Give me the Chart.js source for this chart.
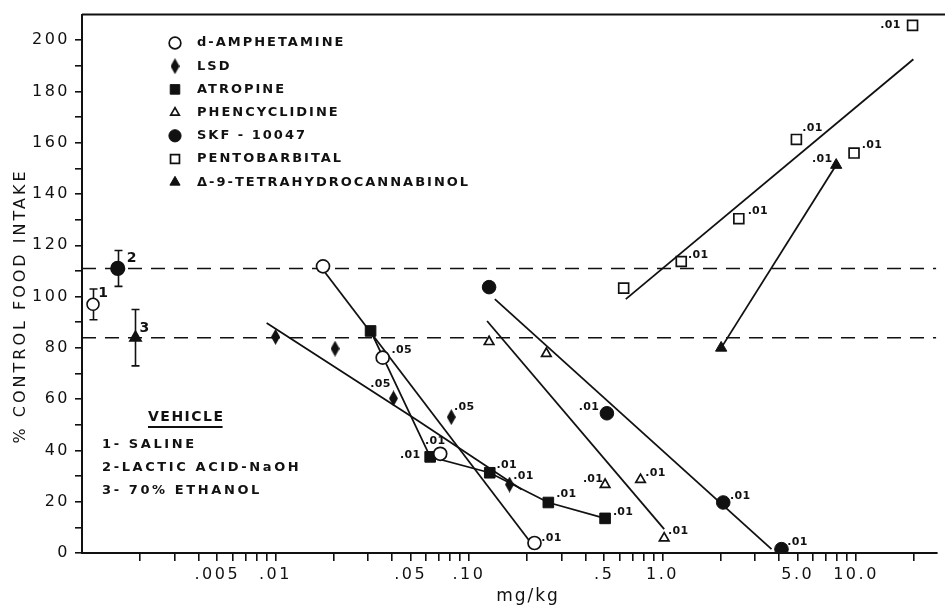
<!DOCTYPE html>
<html>
<head>
<meta charset="utf-8">
<script src="https://cdn.jsdelivr.net/npm/chart.js@4.4.1/dist/chart.umd.min.js"></script>
<style>
  html, body { margin: 0; padding: 0; background: #fff; }
  canvas { display: block; }
</style>
</head>
<body>
<canvas id="chart" width="945" height="608"></canvas>
<script>
// ── Data ─────────────────────────────────────────────────────
const X_MIN = 0.001;
const X_MAX = 26;
const Y_MIN = 0;
const Y_MAX = 210;

const X_TICKS = [0.002, 0.003, 0.004, 0.005, 0.006, 0.007, 0.008, 0.009,
                 0.01, 0.02, 0.03, 0.04, 0.05, 0.06, 0.07, 0.08, 0.09,
                 0.1, 0.2, 0.3, 0.4, 0.5, 0.6, 0.7, 0.8, 0.9,
                 1, 2, 3, 4, 5, 6, 7, 8, 9, 10, 20];
const X_LABEL_VALUES = [0.005, 0.01, 0.05, 0.1, 0.5, 1, 5, 10];
const X_LABEL_TEXT   = ['.005', '.01', '.05', '.10', '.5', '1.0', '5.0', '10.0'];

// vehicles: 1 saline, 2 lactic acid-NaOH, 3 70% ethanol
const VEHICLE_X    = [0.00114, 0.00153, 0.00189];
const VEHICLE_Y    = [97, 111, 84];
const VEHICLE_ERR  = [6, 7, 11];
const VEHICLE_TAGS = ['1', '2', '3'];
const VEHICLE_NAMES = ['1- SALINE', '2-LACTIC ACID-NaOH', '3- 70% ETHANOL'];

const AMPH_X = [0.0176, 0.0358, 0.071, 0.218];
const AMPH_Y = [111.8, 76.2, 38.7, 3.9];
const AMPH_P = ['', '.05', '.01', '.01'];
const AMPH_FIT_X = [0.018, 0.215];
const AMPH_FIT_Y = [109.5, 2.7];

const LSD_X = [0.01, 0.0203, 0.0407, 0.081, 0.162];
const LSD_Y = [84.3, 79.7, 60.3, 53, 26.7];
const LSD_P = ['', '', '.05', '.05', '.01'];
const LSD_FIT_X = [0.009, 0.054, 0.187];
const LSD_FIT_Y = [89.7, 51.8, 24.8];

const ATRO_X = [0.031, 0.063, 0.128, 0.257, 0.505];
const ATRO_Y = [86.6, 37.5, 31.3, 19.7, 13.5];
const ATRO_P = ['', '.01', '.01', '.01', '.01'];

const PCP_X = [0.127, 0.251, 0.505, 0.77, 1.02];
const PCP_Y = [82.4, 77.8, 26.7, 28.6, 5.8];
const PCP_P = ['', '', '.01', '.01', '.01'];
const PCP_FIT_X = [0.124, 1.02];
const PCP_FIT_Y = [90.5, 9.3];

const SKF_X = [0.127, 0.516, 2.06, 4.12];
const SKF_Y = [103.7, 54.5, 19.7, 1.5];
const SKF_P = ['', '.01', '.01', '.01'];
const SKF_FIT_X = [0.136, 3.66];
const SKF_FIT_Y = [99, 1.5];

const PENTO_X = [0.63, 1.25, 2.48, 4.92, 9.77, 19.6];
const PENTO_Y = [103.3, 113.7, 130.4, 161.3, 156, 205.8];
const PENTO_P = ['', '.01', '.01', '.01', '.01', '.01'];
const PENTO_FIT_X = [0.646, 19.8];
const PENTO_FIT_Y = [99, 192.6];

const THC_X = [2.01, 7.9];
const THC_Y = [80, 151.3];
const THC_P = ['', '.01'];

const LEGEND_NAMES = ['d-AMPHETAMINE', 'LSD', 'ATROPINE', 'PHENCYCLIDINE',
                      'SKF - 10047', 'PENTOBARBITAL', 'Δ-9-TETRAHYDROCANNABINOL'];

// ── Styles ───────────────────────────────────────────────────
const INK  = '#111';
const FONT = "'DejaVu Sans', sans-serif";

// offsets of the significance labels (text centre relative to the marker)
const SIG_OFFSET = {
  amph:  [null, [19, -7], [-5, -13], [17, -5]],
  lsd:   [null, null, [-13, -14], [13, -10], [14, -8]],
  atro:  [null, [-20, -2], [17, -8], [18, -8], [18, -6]],
  pcp:   [null, null, [-12, -5], [15, -7], [14, -7]],
  skf:   [null, [-18, -6], [17, -6], [16, -7]],
  pento: [null, [17, -6], [19, -8], [16, -11], [18, -8], [-22, 0]],
  thc:   [null, [-14, -6]]
};
const TAG_OFFSET = [[10, -11], [14, -10], [9, -9]];

// tall narrow diamond for LSD
function makeDiamond(w, h) {
  const c = document.createElement('canvas');
  c.width = w; c.height = h;
  const g = c.getContext('2d');
  g.fillStyle = INK;
  g.beginPath();
  g.moveTo(w / 2, 0); g.lineTo(w, h / 2); g.lineTo(w / 2, h); g.lineTo(0, h / 2);
  g.closePath(); g.fill();
  return c;
}
const DIAMOND = makeDiamond(9, 16);

const STYLE = {
  amph:  { pointStyle: 'circle',   pointRadius: 6.5, pointBackgroundColor: '#fff', pointBorderColor: INK, pointBorderWidth: 1.7 },
  lsd:   { pointStyle: DIAMOND,    pointRadius: 7,   pointBackgroundColor: INK,    pointBorderColor: INK, pointBorderWidth: 0 },
  atro:  { pointStyle: 'rect',     pointRadius: 7.5, pointBackgroundColor: INK,    pointBorderColor: INK, pointBorderWidth: 1 },
  pcp:   { pointStyle: 'triangle', pointRadius: 5.5, pointBackgroundColor: '#fff', pointBorderColor: INK, pointBorderWidth: 1.7 },
  skf:   { pointStyle: 'circle',   pointRadius: 6.8, pointBackgroundColor: INK,    pointBorderColor: INK, pointBorderWidth: 1 },
  pento: { pointStyle: 'rect',     pointRadius: 7,   pointBackgroundColor: '#fff', pointBorderColor: INK, pointBorderWidth: 1.7 },
  thc:   { pointStyle: 'triangle', pointRadius: 6.5, pointBackgroundColor: INK,    pointBorderColor: INK, pointBorderWidth: 1 }
};
const LEGEND_KEYS = ['amph', 'lsd', 'atro', 'pcp', 'skf', 'pento', 'thc'];

// ── Dataset helpers ──────────────────────────────────────────
const pts = (xs, ys) => xs.map((x, i) => ({ x, y: ys[i] }));

function markers(key, xs, ys, sig, extra) {
  return Object.assign({
    data: pts(xs, ys), showLine: false, order: 1, clip: 0,
    sig, sigOffset: SIG_OFFSET[key]
  }, STYLE[key], extra || {});
}

function fitLine(xs, ys, extra) {
  return Object.assign({
    data: pts(xs, ys), showLine: true, pointRadius: 0, order: 3,
    borderColor: INK, borderWidth: 1.8, tension: 0
  }, extra || {});
}

const datasets = [
  // vehicle reference levels
  fitLine([X_MIN, X_MAX], [VEHICLE_Y[1], VEHICLE_Y[1]], { borderDash: [14, 9], borderWidth: 1.5, order: 4 }),
  fitLine([X_MIN, X_MAX], [VEHICLE_Y[2], VEHICLE_Y[2]], { borderDash: [14, 9], borderWidth: 1.5, order: 4 }),
  // fitted lines
  fitLine(AMPH_FIT_X, AMPH_FIT_Y),
  fitLine(LSD_FIT_X, LSD_FIT_Y),
  fitLine(PCP_FIT_X, PCP_FIT_Y),
  fitLine(SKF_FIT_X, SKF_FIT_Y),
  fitLine(PENTO_FIT_X, PENTO_FIT_Y),
  fitLine(ATRO_X, ATRO_Y),
  fitLine(THC_X, THC_Y),
  // markers
  markers('amph', AMPH_X, AMPH_Y, AMPH_P),
  markers('lsd', LSD_X, LSD_Y, LSD_P),
  markers('atro', ATRO_X, ATRO_Y, ATRO_P),
  markers('pcp', PCP_X, PCP_Y, PCP_P),
  markers('skf', SKF_X, SKF_Y, SKF_P),
  markers('pento', PENTO_X, PENTO_Y, PENTO_P),
  markers('thc', THC_X, THC_Y, THC_P),
  {
    data: pts(VEHICLE_X, VEHICLE_Y), showLine: false, order: 1, clip: 0,
    tags: VEHICLE_TAGS,
    pointStyle: ['circle', 'circle', 'triangle'],
    pointRadius: [6, 6.8, 6.5],
    pointBackgroundColor: ['#fff', INK, INK],
    pointBorderColor: INK, pointBorderWidth: 1.6
  }
];

// ── Extra drawing: error bars, labels, legend, titles ────────
function spaced(ctx, px) { ctx.letterSpacing = px + 'px'; }

const annotations = {
  id: 'annotations',
  beforeDraw(chart) { spaced(chart.ctx, 2.5); },
  beforeDatasetsDraw(chart) {
    const { ctx, scales: { x, y } } = chart;
    ctx.save();
    ctx.strokeStyle = INK; ctx.lineWidth = 1.6;
    VEHICLE_X.forEach((v, i) => {
      const px = Math.round(x.getPixelForValue(v)) + 0.5;
      const top = y.getPixelForValue(VEHICLE_Y[i] + VEHICLE_ERR[i]);
      const bot = y.getPixelForValue(VEHICLE_Y[i] - VEHICLE_ERR[i]);
      ctx.beginPath();
      ctx.moveTo(px, top); ctx.lineTo(px, bot);
      ctx.moveTo(px - 4, top); ctx.lineTo(px + 4, top);
      ctx.moveTo(px - 4, bot); ctx.lineTo(px + 4, bot);
      ctx.stroke();
    });
    ctx.restore();
  },
  afterDatasetsDraw(chart) {
    const ctx = chart.ctx;
    ctx.save();
    ctx.fillStyle = INK;
    ctx.textAlign = 'center';
    ctx.textBaseline = 'middle';
    chart.data.datasets.forEach((ds, i) => {
      const els = chart.getDatasetMeta(i).data;
      if (ds.sig) {
        ctx.font = 'bold 11px ' + FONT; spaced(ctx, 0.3);
        ds.sig.forEach((s, j) => {
          const off = ds.sigOffset[j];
          if (!s || !off) return;
          ctx.fillText(s, els[j].x + off[0], els[j].y + off[1]);
        });
      }
      if (ds.tags) {
        ctx.font = 'bold 14px ' + FONT; spaced(ctx, 0);
        ds.tags.forEach((t, j) => {
          ctx.fillText(t, els[j].x + TAG_OFFSET[j][0], els[j].y + TAG_OFFSET[j][1]);
        });
      }
    });
    ctx.restore();
  },
  afterDraw(chart) {
    const { ctx, chartArea: a } = chart;
    ctx.save();
    ctx.fillStyle = INK; ctx.strokeStyle = INK;

    // top frame line
    ctx.lineWidth = 2;
    ctx.beginPath(); ctx.moveTo(a.left, a.top); ctx.lineTo(chart.width, a.top); ctx.stroke();

    // axis titles
    ctx.textAlign = 'center'; ctx.textBaseline = 'middle';
    ctx.font = '16px ' + FONT; spaced(ctx, 3);
    ctx.save();
    ctx.translate(21, 306); ctx.rotate(-Math.PI / 2);
    ctx.fillText('% CONTROL FOOD INTAKE', 0, 0);
    ctx.restore();
    ctx.font = '17px ' + FONT; spaced(ctx, 2);
    ctx.fillText('mg/kg', 528, 597);

    // marker legend
    const drawPoint = Chart.helpers && Chart.helpers.drawPoint;
    ctx.textAlign = 'left';
    ctx.font = 'bold 13px ' + FONT; spaced(ctx, 2.0);
    LEGEND_KEYS.forEach((k, i) => {
      const st = STYLE[k];
      const ly = 43 + i * 23.2;
      ctx.fillStyle = st.pointBackgroundColor;
      ctx.strokeStyle = st.pointBorderColor;
      ctx.lineWidth = st.pointBorderWidth;
      if (drawPoint) {
        drawPoint(ctx, { pointStyle: st.pointStyle, radius: st.pointRadius * 0.9, rotation: 0,
                         borderWidth: st.pointBorderWidth }, 175, ly);
      }
      ctx.fillStyle = INK;
      ctx.fillText(LEGEND_NAMES[i], 197, ly);
    });

    // vehicle key
    ctx.font = 'bold 14px ' + FONT; spaced(ctx, 1.5);
    ctx.fillText('VEHICLE', 148, 417);
    const w = ctx.measureText('VEHICLE').width;
    ctx.lineWidth = 2;
    ctx.beginPath(); ctx.moveTo(148, 427); ctx.lineTo(146 + w, 427); ctx.stroke();
    ctx.font = 'bold 13px ' + FONT; spaced(ctx, 2.6);
    VEHICLE_NAMES.forEach((n, i) => ctx.fillText(n, 102, 445 + i * 23));
    ctx.restore();
  }
};

// ── Chart ────────────────────────────────────────────────────
new Chart(document.getElementById('chart'), {
  type: 'scatter',
  data: { datasets },
  plugins: [annotations],
  options: {
    responsive: false,
    animation: false,
    devicePixelRatio: 1,
    layout: { padding: { left: 0, right: 2, top: 11, bottom: 0 } },
    plugins: { legend: { display: false }, tooltip: { enabled: false } },
    scales: {
      x: {
        type: 'logarithmic',
        min: X_MIN, max: X_MAX,
        afterBuildTicks: s => { s.ticks = X_TICKS.map(v => ({ value: v })); },
        afterFit: s => { s.height = 55; },
        grid: { drawOnChartArea: false, drawTicks: true, tickLength: 8, color: INK, lineWidth: 1.6 },
        border: { display: true, color: INK, width: 2 },
        ticks: {
          autoSkip: false, maxRotation: 0, padding: 4,
          color: INK, font: { family: FONT, size: 16 },
          callback: v => {
            const i = X_LABEL_VALUES.findIndex(l => Math.abs(l - v) / l < 1e-6);
            return i >= 0 ? X_LABEL_TEXT[i] : '';
          }
        }
      },
      y: {
        type: 'linear',
        min: Y_MIN, max: Y_MAX,
        afterBuildTicks: s => { s.ticks = s.ticks.filter(t => t.value <= 200); },
        afterFit: s => { s.width = 82; },
        grid: { drawOnChartArea: false, drawTicks: true, tickLength: 7, color: INK, lineWidth: 1.6 },
        border: { display: true, color: INK, width: 2 },
        ticks: {
          stepSize: 10, autoSkip: false, padding: 5,
          color: INK, font: { family: FONT, size: 16 },
          callback: v => (v % 20 === 0 ? String(v) : '')
        }
      }
    }
  }
});
</script>
</body>
</html>
